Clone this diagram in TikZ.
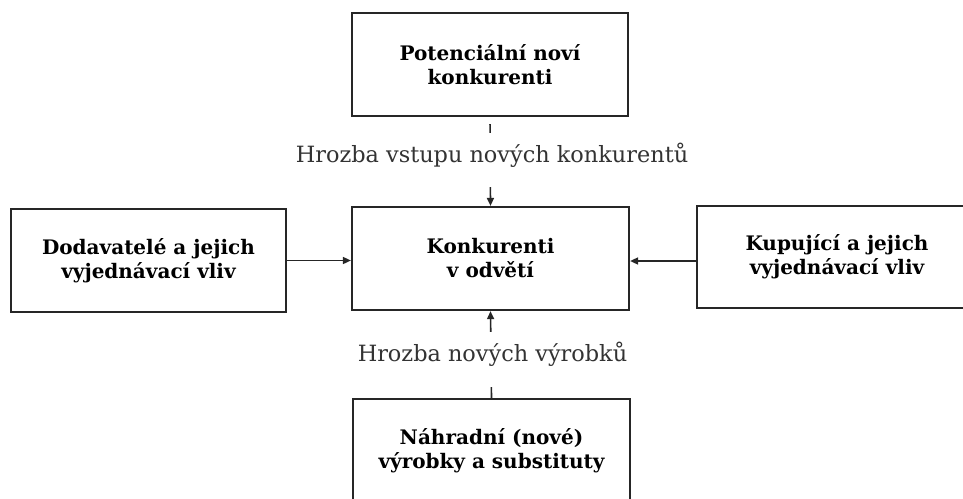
\documentclass[tikz,border=0pt]{standalone}
\usepackage{fontspec}
\setmainfont{DejaVu Serif}
\usetikzlibrary{arrows.meta}
\begin{document}
\begin{tikzpicture}[x=1pt,y=-1pt,
  box/.style={draw=black!85, line width=2.2pt, align=center, font=\bfseries\fontsize{20}{24}\selectfont, inner sep=0pt},
  conn/.style={draw=black!85, line width=1.6pt, -{Triangle[length=8pt,width=7pt]}},
  lbl/.style={fill=white, inner sep=0pt, text=black!80, font=\fontsize{22.4}{26}\selectfont, text height=16pt, text depth=12pt}
]
\useasboundingbox (0,0) rectangle (963,498);
\clip (0,0) rectangle (963,498);
\node[box, minimum width=276pt, minimum height=103pt] (top) at (490,64.5) {Potenciální noví\\konkurenti};
\node[box, minimum width=277pt, minimum height=103pt] (mid) at (490.5,258.5) {Konkurenti\\v odvětí};
\node[box, minimum width=275pt, minimum height=103pt] (left) at (148.5,260.5) {Dodavatelé a jejich\\vyjednávací vliv};
\node[box, minimum width=280pt, minimum height=102pt] (right) at (837,257) {Kupující a jejich\\vyjednávací vliv};
\node[box, minimum width=277pt, minimum height=103pt] (bot) at (491.5,450.5) {Náhradní (nové)\\výrobky a substituty};
\draw[conn, shorten <=7pt] (top.south) -- (mid.north);
\draw[conn] (bot.north) -- (mid.south);
\draw[conn] (left.east) -- (left.east -| mid.west);
\draw[conn] ([yshift=-4pt]right.west) -- ([yshift=-4pt]right.west -| mid.east);
\node[lbl, minimum height=54pt, minimum width=410pt] (l1) at (492,160) {Hrozba vstupu nových konkurentů};
\node[lbl, minimum height=55pt, minimum width=270pt] (l2) at (492.5,359.5) {Hrozba nových výrobků};
\end{tikzpicture}
\end{document}
